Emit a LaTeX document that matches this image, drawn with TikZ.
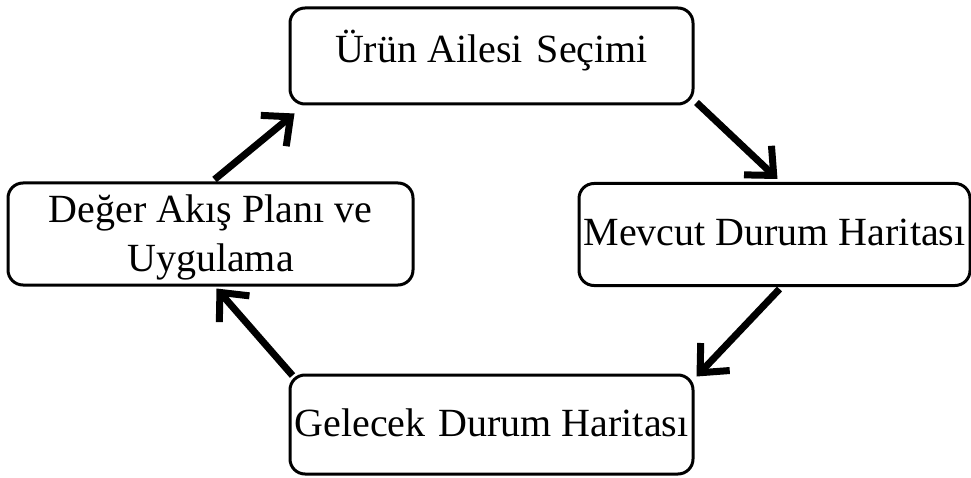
\documentclass[tikz,border=0pt]{standalone}
\usepackage{fontspec}
\setmainfont{Liberation Serif}
\usetikzlibrary{arrows.meta}
\begin{document}
\begin{tikzpicture}[x=1pt,y=-1pt,
  stepbox/.style={draw, line width=3pt, rounded corners=15pt, inner sep=0pt,
    font=\fontsize{40}{49}\selectfont, align=center},
  flow/.style={line width=7pt, -{Straight Barb[length=22pt,width=40pt,line width=7pt]}}]
\useasboundingbox (0,0) rectangle (971,478);
\node[stepbox, minimum width=403pt, minimum height=96pt, text height=28pt, text depth=14pt] (top) at (491.5,56) {Ürün Ailesi\hspace{14pt}Seçimi};
\node[stepbox, minimum width=391pt, minimum height=102pt, text height=30pt, text depth=7pt] (right) at (774.5,234.5) {Mevcut Durum Haritası};
\node[stepbox, minimum width=403pt, minimum height=99pt, text height=30pt, text depth=6pt] (bottom) at (491.5,424.5) {Gelecek\hspace{13pt}Durum Haritası};
\node[stepbox, minimum width=405pt, minimum height=102pt] (left) at (210.5,234) {\rule{0pt}{36pt}Değer Akış Planı ve\hspace{8pt}\\Uygulama\rule[-9pt]{0pt}{9pt}};
\draw[flow] ([xshift=2pt,yshift=3pt]top.south east) -- ([xshift=3pt,yshift=3pt]right.north);
\draw[flow] ([xshift=5pt,yshift=-2pt]right.south) -- ([xshift=2pt,yshift=-3pt]bottom.north east);
\draw[flow] ([xshift=4pt,yshift=-2pt]bottom.north west) -- ([xshift=6pt,yshift=-2pt]left.south);
\draw[flow] ([xshift=4pt,yshift=2pt]left.north) -- ([xshift=6pt,yshift=-8pt]top.south west);
\end{tikzpicture}
\end{document}
